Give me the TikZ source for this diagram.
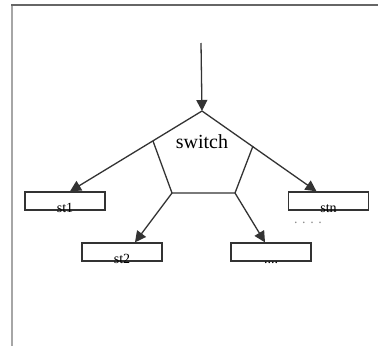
\documentclass[tikz,border=0pt]{standalone}
\usepackage{fontspec}
\setmainfont{Liberation Serif}
\usetikzlibrary{arrows.meta,calc}

\begin{document}
\begin{tikzpicture}[x=1pt, y=-1pt,
    casebox/.style={draw=black!80, line width=1.3pt, rectangle, minimum width=80pt, minimum height=18pt, inner sep=0pt},
    casetext/.style={anchor=base, inner sep=0pt, font=\fontsize{14}{14}\selectfont},
    flow/.style={draw=black!80, line width=1.3pt, -{Triangle[length=11pt,width=11pt]}},
    side/.style={draw=black!80, line width=1.3pt}]

        % page and frame
        \fill[white] (0,0) rectangle (378,346);
        \useasboundingbox (0,0) rectangle (378,346);
        \draw[black!35, line width=2pt] (12,346) -- (12,5);
        \draw[black!60, line width=1.5pt] (11,5) -- (378,5);

        % Draw the case cells
        \node[casebox] (st1) at (65,201) {};
        \node[casebox] (stn) at (328.5,201) {};
        \node[casebox] (st2) at (122,252) {};
        \node[casebox] (stdots) at (271,252) {};

        \node[casetext] (st1txt) at ($(st1.south)+(0,1.5)$) {st1};
        \node[casetext] (stntxt) at ($(stn.south)+(0,1.5)$) {stn};
        \node[casetext] (st2txt) at ($(st2.south)+(0,1.5)$) {st2};
        \node[casetext] (stdotstxt) at ($(stdots.south)+(0,1.5)$) {....};
        \node[casetext, text=black!45] (moretxt) at (308,223) {. . . .};

        % Draw the switch pentagon
        \coordinate (entry) at (201,43);
        \coordinate (apex) at (202,111);
        \coordinate (ul) at (153,141);
        \coordinate (ur) at (253,146);
        \coordinate (bl) at (172,193);
        \coordinate (br) at (235,193);
        \node[anchor=base, inner sep=0pt, font=\fontsize{20}{20}\selectfont] (switchtxt) at (202,148) {switch};

        \draw[side] (ul) -- (bl) -- (br) -- (ur);

        % Draw the arrows
        \draw[flow] (entry) -- (apex);
        \draw[flow] (apex) -- ($(st1.north)+(5,0)$);
        \draw[flow] (apex) -- ($(stn.north)+(-12,0)$);
        \draw[flow] (bl) -- ($(st2.north)+(13,0)$);
        \draw[flow] (br) -- ($(stdots.north)+(-6,0)$);

\end{tikzpicture}
\end{document}
